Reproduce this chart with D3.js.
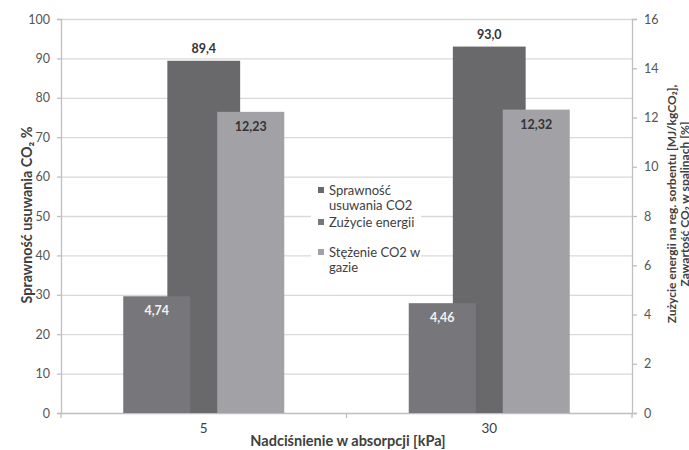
<!DOCTYPE html>
<html>
<head>
<meta charset="utf-8">
<script src="https://cdn.jsdelivr.net/npm/d3@7"></script>
<style>
  html, body { margin: 0; padding: 0; background: #fff; }
  svg { display: block; font-family: Lato, "Open Sans", sans-serif; }
</style>
</head>
<body>
<svg id="chart" width="689" height="450"></svg>
<script>
// Categories: overpressure in absorption [kPa]
const categories = ["5", "30"];
// Primary axis series: CO2 removal efficiency [%]
const efficiency = [89.4, 93.0];
// Secondary axis series: energy use [MJ/kgCO2] and CO2 concentration [%]
const energy = [4.74, 4.46];
const concentration = [12.23, 12.32];
const leftTicks = [0, 10, 20, 30, 40, 50, 60, 70, 80, 90, 100];
const rightTicks = [0, 2, 4, 6, 8, 10, 12, 14, 16];
const legendLines = [
  ["Sprawność", "usuwania CO2"],
  ["Zużycie energii"],
  ["Stężenie CO2 w", "gazie"]
];

const colors = { eff: "#69696c", energy: "#77777b", conc: "#a2a2a6" };
const pl = d3.formatLocale({ decimal: ",", thousands: " ", grouping: [3], currency: ["", " zł"] });
const f1 = pl.format(".1f"), f2 = pl.format(".2f");

const svg = d3.select("#chart");
const m = { left: 61, right: 632, top: 19, bottom: 413 };

const x = d3.scaleBand().domain(categories).range([m.left, m.right]).padding(0);
const yL = d3.scaleLinear().domain([0, 100]).range([m.bottom, m.top]);
const yR = d3.scaleLinear().domain([0, 16]).range([m.bottom, m.top]);

// secondary-axis sub-band (two series side by side around category centre)
const bw = x.bandwidth();
const sub = d3.scaleBand().domain(["energy", "conc"])
  .range([-0.282 * bw, 0.282 * bw]).paddingInner(0.287).paddingOuter(0);
const effW = 0.255 * bw;

// gridlines
svg.append("g").selectAll("line").data(leftTicks.slice(1)).join("line")
  .attr("x1", m.left).attr("x2", m.right)
  .attr("y1", d => yL(d) + 0.5).attr("y2", d => yL(d) + 0.5)
  .attr("stroke", "#d9d9d9").attr("stroke-width", 1.3);

// legend background (sits over the gridlines)
const lg = svg.append("g");
lg.append("rect").attr("x", 311).attr("y", 181).attr("width", 110).attr("height", 111).attr("fill", "#fff");

// axes
const axL = svg.append("g").attr("transform", `translate(${m.left},0)`)
  .call(d3.axisLeft(yL).tickValues(leftTicks).tickSize(4).tickPadding(7));
const axR = svg.append("g").attr("transform", `translate(${m.right},0)`)
  .call(d3.axisRight(yR).tickValues(rightTicks).tickSize(5).tickPadding(7));
const axB = svg.append("g").attr("transform", `translate(0,${m.bottom})`)
  .call(d3.axisBottom(x).tickSize(0).tickPadding(10));
// category separator ticks
svg.append("g").selectAll("line").data([m.left, x("30"), m.right]).join("line")
  .attr("x1", d => d).attr("x2", d => d).attr("y1", m.bottom).attr("y2", m.bottom + 5)
  .attr("stroke", "#bfbfbf").attr("stroke-width", 1.3);

[axL, axR, axB].forEach(a => {
  a.select(".domain").attr("stroke", "#bfbfbf").attr("stroke-width", 1.3);
  a.selectAll(".tick line").attr("stroke", "#bfbfbf").attr("stroke-width", 1.3);
  a.selectAll("text").attr("fill", "#555").attr("font-size", 12.5)
    .attr("font-family", "Lato, sans-serif");
});
axB.selectAll("text").attr("font-size", 13.5).attr("fill", "#404040");

// primary bars: efficiency
const cx = c => x(c) + bw / 2;
svg.append("g").selectAll("rect").data(categories).join("rect")
  .attr("x", (c) => cx(c) - effW / 2)
  .attr("width", effW)
  .attr("y", (c, i) => yL(efficiency[i]))
  .attr("height", (c, i) => yL(0) - yL(efficiency[i]))
  .attr("fill", colors.eff);

// secondary bars: energy and concentration
const secSeries = [
  { key: "energy", values: energy, color: colors.energy, label: "#f2f2f2" },
  { key: "conc", values: concentration, color: colors.conc, label: "#333" }
];
secSeries.forEach(s => {
  svg.append("g").selectAll("rect").data(categories).join("rect")
    .attr("x", c => cx(c) + sub(s.key))
    .attr("width", sub.bandwidth())
    .attr("y", (c, i) => yR(s.values[i]))
    .attr("height", (c, i) => yR(0) - yR(s.values[i]))
    .attr("fill", s.color);
});

// value labels
const lbl = svg.append("g").attr("font-weight", "bold").attr("font-size", 12.5)
  .attr("text-anchor", "middle");
categories.forEach((c, i) => {
  lbl.append("text").attr("x", cx(c)).attr("y", yL(efficiency[i]) - 8)
    .attr("fill", "#333").text(f1(efficiency[i]));
  secSeries.forEach(s => {
    lbl.append("text").attr("x", cx(c) + sub(s.key) + sub.bandwidth() / 2)
      .attr("y", yR(s.values[i]) + 19)
      .attr("fill", s.label).text(f2(s.values[i]));
  });
});

// legend
const legendColors = [colors.eff, colors.energy, colors.conc];
const legendY = [191, 223, 253];
legendLines.forEach((lines, i) => {
  lg.append("rect").attr("x", 318).attr("y", legendY[i] - 4).attr("width", 6).attr("height", 6)
    .attr("fill", legendColors[i]);
  lines.forEach((t, j) => {
    lg.append("text").attr("x", 329).attr("y", legendY[i] + 4 + j * 15)
      .attr("font-size", 13).attr("fill", "#404040").text(t);
  });
});

// axis titles
svg.append("text").attr("transform", `translate(32,215) rotate(-90)`)
  .attr("text-anchor", "middle").attr("font-weight", "bold").attr("font-size", 14.3)
  .attr("fill", "#404040").text("Sprawność usuwania CO₂ %");
svg.append("text").attr("x", 348).attr("y", 446)
  .attr("text-anchor", "middle").attr("font-weight", "bold").attr("font-size", 14.5)
  .attr("fill", "#404040").text("Nadciśnienie w absorpcji [kPa]");
const rt = svg.append("text").attr("transform", `translate(676,204) rotate(-90)`)
  .attr("text-anchor", "middle").attr("font-weight", "bold").attr("font-size", 12)
  .attr("fill", "#404040");
rt.append("tspan").attr("x", 0).attr("dy", 0).text("Zużycie energii na reg. sorbentu  [MJ/kgCO₂],");
rt.append("tspan").attr("x", 0).attr("dy", 13).text("Zawartość CO₂ w spalinach [%]");
</script>
</body>
</html>
